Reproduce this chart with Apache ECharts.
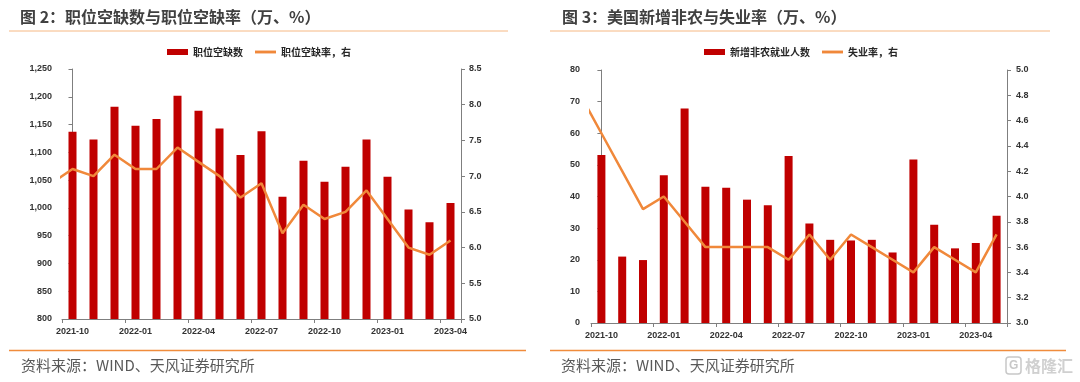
<!DOCTYPE html>
<html><head><meta charset="utf-8">
<script src="https://cdn.jsdelivr.net/npm/echarts@6/dist/echarts.min.js"></script>
<style>html,body{margin:0;padding:0;background:#fff}#c{width:1080px;height:382px}</style>
</head><body><div id="c"></div>
<script>
// ---------- data ----------
const leftCategories = ['2021-10','2021-11','2021-12','2022-01','2022-02','2022-03','2022-04','2022-05','2022-06','2022-07','2022-08','2022-09','2022-10','2022-11','2022-12','2023-01','2023-02','2023-03','2023-04'];
const jobOpenings = [1137,1123,1182,1148,1160,1202,1175,1143,1095,1138,1020,1085,1047,1074,1123,1056,997,974,1009];
// job openings rate; first value is 2021-09 (only its segment end is visible at the left edge)
const openingsRate = [6.9,7.1,7.0,7.3,7.1,7.1,7.4,7.2,7.0,6.7,6.9,6.2,6.6,6.4,6.5,6.8,6.4,6.0,5.9,6.1];

const rightCategories = ['2021-10','2021-11','2021-12','2022-01','2022-02','2022-03','2022-04','2022-05','2022-06','2022-07','2022-08','2022-09','2022-10','2022-11','2022-12','2023-01','2023-02','2023-03','2023-04','2023-05'];
const payrolls = [53.1,21.0,19.9,46.7,67.8,43.1,42.8,39.0,37.2,52.8,31.5,26.3,26.1,26.3,22.3,51.7,31.1,23.6,25.3,33.9];
// unemployment rate; first value is 2021-09 (clipped at the left edge)
const unemploymentRate = [4.8,4.5,4.2,3.9,4.0,3.8,3.6,3.6,3.6,3.6,3.5,3.7,3.5,3.7,3.6,3.5,3.4,3.6,3.5,3.4,3.7];

const titles = ['图 2：职位空缺数与职位空缺率（万、%）', '图 3：美国新增非农与失业率（万、%）'];
const seriesNames = ['职位空缺数', '职位空缺率，右', '新增非农就业人数', '失业率，右'];
const sourceText = '资料来源：WIND、天风证券研究所';

// ---------- styles ----------
const BAR = '#C00000', LINE = '#F0883A', AX = '#7f7f7f';
const CJK = '"Noto Sans CJK SC", "Noto Sans", sans-serif';
const NUM = '"Liberation Sans", Arial, sans-serif';
const LINE_ICON = 'path://M0 0H22V3H0Z';

function withPrev(arr){ return arr.map((v,i)=>[i-1, v]); }

function catAxis(grid, cats){
  return {type:'category', gridIndex:grid, data:cats, boundaryGap:true,
    axisLine:{show:true, lineStyle:{color:AX, width:1}},
    axisTick:{show:true, interval:2, length:4, lineStyle:{color:AX}},
    axisLabel:{interval:2, margin:8, fontSize:9, fontWeight:'bold', color:'#333', fontFamily:NUM},
    splitLine:{show:false}};
}
function valAxis(grid, pos, min, max, interval, fmt, margin){
  return {type:'value', gridIndex:grid, position:pos, min, max, interval,
    axisLine:{show:true, lineStyle:{color:AX, width:1}},
    axisTick:{show:true, length:4, lineStyle:{color:AX}},
    axisLabel:{margin, fontSize:9, fontWeight:'bold', color:'#333', fontFamily:NUM, formatter:fmt},
    splitLine:{show:false}};
}
const fmtInt = v => v.toLocaleString('en-US');
const fmt1 = v => v.toFixed(1);

const legendCommon = {itemWidth:21, itemHeight:6, itemGap:12,
  textStyle:{fontSize:10, color:'#262626', fontWeight:'bold', fontFamily:CJK}};

const option = {
  animation:false,
  backgroundColor:'#fff',
  grid:[
    {left:62, top:69, width:399, height:250},
    {left:591, top:70, width:416, height:253}
  ],
  xAxis:[
    catAxis(0, leftCategories),
    catAxis(1, rightCategories),
    {type:'value', gridIndex:0, min:-0.5, max:leftCategories.length-0.5, show:false, splitLine:{show:false}},
    {type:'value', gridIndex:1, min:-0.5, max:rightCategories.length-0.5, show:false, splitLine:{show:false}}
  ],
  yAxis:[
    valAxis(0,'left',800,1250,50,fmtInt,10),
    valAxis(0,'right',5.0,8.5,0.5,fmt1,8),
    valAxis(1,'left',0,80,10,null,11),
    valAxis(1,'right',3.0,5.0,0.2,fmt1,9)
  ],
  legend:[
    Object.assign({left:162, top:42, data:[{name:seriesNames[0], icon:'rect'}, {name:seriesNames[1], icon:LINE_ICON}]}, legendCommon),
    Object.assign({left:699, top:42, data:[{name:seriesNames[2], icon:'rect'}, {name:seriesNames[3], icon:LINE_ICON}]}, legendCommon)
  ],
  series:[
    {type:'bar', name:seriesNames[0], xAxisIndex:0, yAxisIndex:0, data:jobOpenings, barWidth:8, itemStyle:{color:BAR}},
    {type:'line', name:seriesNames[1], xAxisIndex:2, yAxisIndex:1, data:withPrev(openingsRate), symbol:'none', clip:true,
      lineStyle:{color:LINE, width:2.5}, itemStyle:{color:LINE}, z:3},
    {type:'bar', name:seriesNames[2], xAxisIndex:1, yAxisIndex:2, data:payrolls, barWidth:8, itemStyle:{color:BAR}},
    {type:'line', name:seriesNames[3], xAxisIndex:3, yAxisIndex:3, data:withPrev(unemploymentRate), symbol:'none', clip:true,
      lineStyle:{color:LINE, width:2.5}, itemStyle:{color:LINE}, z:3}
  ],
  graphic:[
    {type:'text', x:20, y:17, style:{text:titles[0], font:'bold 16px '+CJK, fill:'#404040', textVerticalAlign:'middle', verticalAlign:'middle'}},
    {type:'text', x:562, y:17, style:{text:titles[1], font:'bold 16px '+CJK, fill:'#404040', textVerticalAlign:'middle', verticalAlign:'middle'}},
    {type:'line', shape:{x1:9, y1:31, x2:508, y2:31}, style:{stroke:'#F6B883', lineWidth:1}},
    {type:'line', shape:{x1:550, y1:31, x2:1050, y2:31}, style:{stroke:'#F6B883', lineWidth:1}},
    {type:'line', shape:{x1:9, y1:350.5, x2:526, y2:350.5}, style:{stroke:'#F08C3C', lineWidth:1.5}},
    {type:'line', shape:{x1:550, y1:350.5, x2:1066, y2:350.5}, style:{stroke:'#F08C3C', lineWidth:1.5}},
    {type:'text', x:21, y:365, style:{text:sourceText, font:'15px '+CJK, fill:'#595959', textVerticalAlign:'middle', verticalAlign:'middle'}},
    {type:'text', x:561, y:365, style:{text:sourceText, font:'15px '+CJK, fill:'#595959', textVerticalAlign:'middle', verticalAlign:'middle'}},
    {type:'rect', shape:{x:1006, y:357, width:15, height:17, r:3}, style:{fill:'none', stroke:'#c8c8c8', lineWidth:1.5}},
    {type:'text', x:1009, y:366, style:{text:'G', font:'bold 12px '+NUM, fill:'#c8c8c8', textVerticalAlign:'middle', verticalAlign:'middle'}},
    {type:'text', x:1025, y:366, style:{text:'格隆汇', font:'bold 16px '+CJK, fill:'#d0d0d0', textVerticalAlign:'middle', verticalAlign:'middle'}}
  ]
};
const chart = echarts.init(document.getElementById('c'), null, {renderer:'canvas'});
chart.setOption(option);
</script>
</body></html>
